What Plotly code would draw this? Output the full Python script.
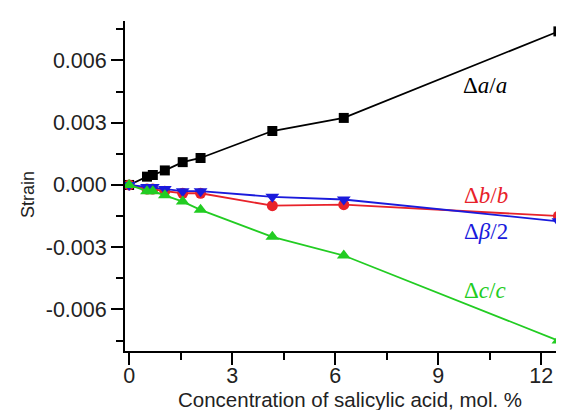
import plotly.graph_objects as go

conc = [0, 0.52, 0.69, 1.04, 1.56, 2.08, 4.17, 6.25, 12.5]
da_a = [0, 0.0004, 0.00048, 0.0007, 0.0011, 0.0013, 0.0026, 0.00323, 0.0074]
db_b = [0, -0.0002, -0.0002, -0.0003, -0.0004, -0.0004, -0.001, -0.00095, -0.0015]
dbeta_2 = [0, -0.0001, -0.0001, -0.0002, -0.0003, -0.0003, -0.00057, -0.0007, -0.00175]
dc_c = [0, -0.0003, -0.0003, -0.0005, -0.0008, -0.0012, -0.0025, -0.0034, -0.0075]

y_tickvals = [0.006, 0.003, 0.0, -0.003, -0.006]
y_ticktext = ["0.006", "0.003", "0.000", "-0.003", "-0.006"]
x_tickvals = [0, 3, 6, 9, 12]
x_ticktext = ["0", "3", "6", "9", "12"]

label_x = [10.35, 10.4, 10.4, 10.35]
label_y = [0.0048, -0.00053, -0.00222, -0.00507]

series = [
    (da_a, "#000000", "square", "Δ<i>a</i>/<i>a</i>", 10),
    (db_b, "#e8222a", "circle", "Δ<i>b</i>/<i>b</i>", 11),
    (dbeta_2, "#1a1adc", "triangle-down", "Δ<i>β</i>/2", 12),
    (dc_c, "#22cc22", "triangle-up", "Δ<i>c</i>/<i>c</i>", 12),
]

fig = go.Figure()
for ys, col, sym, lab, ms in series:
    fig.add_trace(go.Scatter(
        x=conc, y=ys, mode="lines+markers",
        line=dict(color=col, width=1.8),
        marker=dict(color=col, symbol=sym, size=ms, line=dict(width=0)),
        showlegend=False,
    ))

for (ys, col, sym, lab, ms), lx, ly in zip(series, label_x, label_y):
    fig.add_annotation(
        x=lx, y=ly, text=lab, showarrow=False,
        font=dict(family="Liberation Serif", size=23, color=col),
        xanchor="center", yanchor="middle",
    )

L, T, W, H = 117, 13, 442, 330
fig.add_annotation(
    xref="paper", yref="paper", x=(341.5 - L) / W, y=(T + H - 391) / H,
    text="Concentration of salicylic acid, mol. %", showarrow=False,
    font=dict(size=20.5, color="#222222"), xanchor="center", yanchor="middle",
)
fig.add_annotation(
    xref="paper", yref="paper", x=(20 - L) / W, y=(T + H - 187) / H,
    text="Strain", showarrow=False, textangle=-90,
    font=dict(size=18, color="#222222"), xanchor="center", yanchor="middle",
)

fig.update_layout(
    width=564, height=410,
    margin=dict(l=L, r=564 - L - W, t=T, b=410 - T - H, autoexpand=False),
    paper_bgcolor="white", plot_bgcolor="white",
    font=dict(family="Liberation Sans, Arial", size=21.5, color="#222222"),
)
fig.update_xaxes(
    range=[-0.12, 12.75], showgrid=False, zeroline=False, automargin=False,
    showline=True, linecolor="black", linewidth=2,
    ticks="outside", ticklen=12, tickwidth=2, tickcolor="black",
    tickvals=x_tickvals, ticktext=x_ticktext, ticklabelstandoff=-8,
    minor=dict(dtick=1.5, tick0=0, ticks="outside", ticklen=7, tickwidth=2, tickcolor="black"),
)
fig.update_yaxes(
    range=[-0.0080, 0.0079], showgrid=False, zeroline=False, automargin=False,
    showline=True, linecolor="black", linewidth=2,
    ticks="outside", ticklen=12, tickwidth=2, tickcolor="black",
    tickvals=y_tickvals, ticktext=y_ticktext,
    minor=dict(dtick=0.0015, tick0=0, ticks="outside", ticklen=7, tickwidth=2, tickcolor="black"),
)

fig.write_html("out.html")
